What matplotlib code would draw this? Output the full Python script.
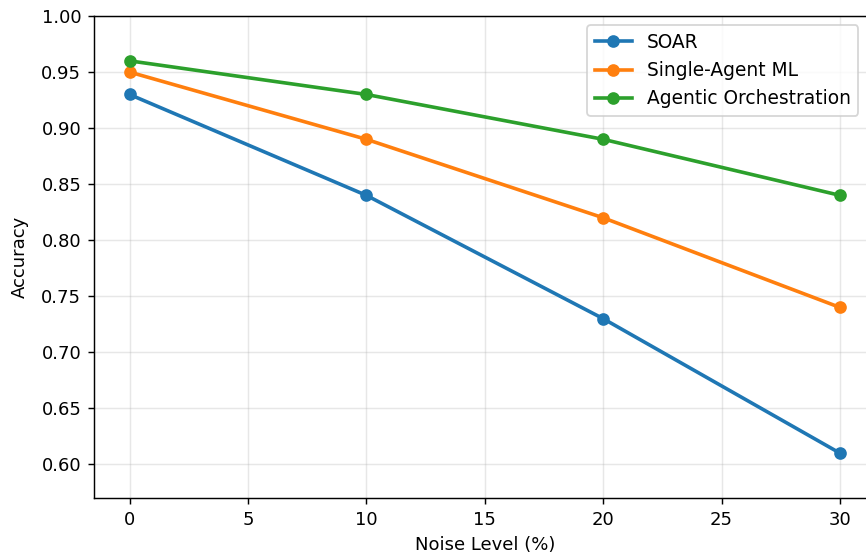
import matplotlib
matplotlib.use("Agg")
import matplotlib.pyplot as plt

# Data
noise = [0, 10, 20, 30]
soar = [0.93, 0.84, 0.73, 0.61]
single_agent = [0.95, 0.89, 0.82, 0.74]
agentic = [0.96, 0.93, 0.89, 0.84]

# Figure (the original is cropped on the right, so the axes run past the edge)
dpi = 130
fig = plt.figure(figsize=(866/dpi, 558/dpi), dpi=dpi)
ax = fig.add_axes([94/866, 60/558, (875.5-94)/866, (498-16)/558])

ax.plot(noise, soar, marker="o", lw=2, label="SOAR")
ax.plot(noise, single_agent, marker="o", lw=2, label="Single-Agent ML")
ax.plot(noise, agentic, marker="o", lw=2, label="Agentic Orchestration")

ax.set_xlim(-1.5, 31.5)
ax.set_ylim(0.57, 1.0)
ax.set_xlabel("Noise Level (%)")
ax.set_ylabel("Accuracy", labelpad=7)
ax.grid(True, alpha=0.3)
ax.legend(loc="upper right", bbox_to_anchor=(0.99, 1.0), fontsize=10.3)

fig.savefig("out.png", dpi=dpi)
